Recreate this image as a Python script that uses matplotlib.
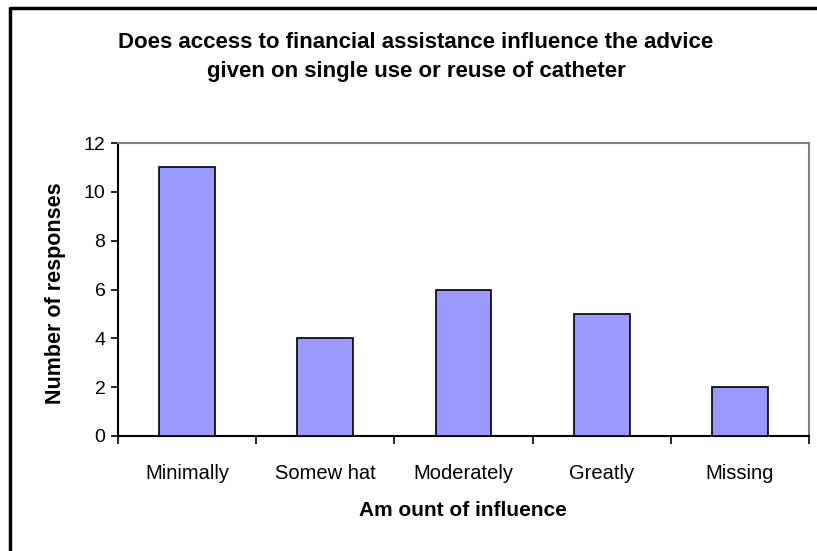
import matplotlib
matplotlib.use("Agg")
import matplotlib.pyplot as plt
from matplotlib.lines import Line2D

categories = ["Minimally", "Somew hat", "Moderately", "Greatly", "Missing"]
values = [11, 4, 6, 5, 2]
yticks = [0, 2, 4, 6, 8, 10, 12]

W, H = 817, 551
fig = plt.figure(figsize=(W / 100, H / 100), dpi=100)
plt.rcParams['font.family'] = ['Liberation Sans', 'DejaVu Sans']

left, right, top, bottom = 118, 809, 143, 436
ax = fig.add_axes([left / W, 1 - bottom / H, (right - left) / W, (bottom - top) / H])

x = list(range(len(categories)))
ax.bar(x, values, width=0.405, color="#9999FF", edgecolor="black", linewidth=1.2, zorder=3)
ax.set_xlim(-0.5, len(categories) - 0.5)
ax.set_ylim(0, 12)
ax.set_yticks(yticks)
ax.set_yticklabels([str(v) for v in yticks], fontsize=14)

ax.set_xticks(x)
ax.set_xticklabels(categories, fontsize=14.5)
ax.tick_params(axis="x", which="major", length=0, pad=20)
ax.set_xticks([i - 0.5 for i in range(len(categories) + 1)], minor=True)
ax.tick_params(axis="x", which="minor", length=6, width=1.2, direction="out", color="black")
ax.tick_params(axis="y", length=5, width=1.2, direction="out", pad=4)

for s in ["left", "bottom"]:
    ax.spines[s].set_color("black")
    ax.spines[s].set_linewidth(1.5)
for s in ["top", "right"]:
    ax.spines[s].set_color("#808080")
    ax.spines[s].set_linewidth(1.5)

fig.text(463 / W, 1 - 510 / H, "Am ount of influence",
         ha="center", va="center", fontsize=15, fontweight="bold")
fig.text(55 / W, 1 - 293 / H, "Number of responses", rotation=90,
         ha="center", va="center", fontsize=15.5, fontweight="bold")

fig.text(416 / W, 1 - 42 / H, "Does access to financial assistance influence the advice",
         ha="center", va="center", fontsize=16, fontweight="bold")
fig.text(416 / W, 1 - 72 / H, "given on single use or reuse of catheter",
         ha="center", va="center", fontsize=16, fontweight="bold")

# outer chart border (left and top visible)
fig.add_artist(Line2D([10 / W, 10 / W, 1.0], [0.0, 1 - 8 / H, 1 - 8 / H],
                      transform=fig.transFigure, color="black", linewidth=2.5))

fig.savefig("out.png", dpi=100)
